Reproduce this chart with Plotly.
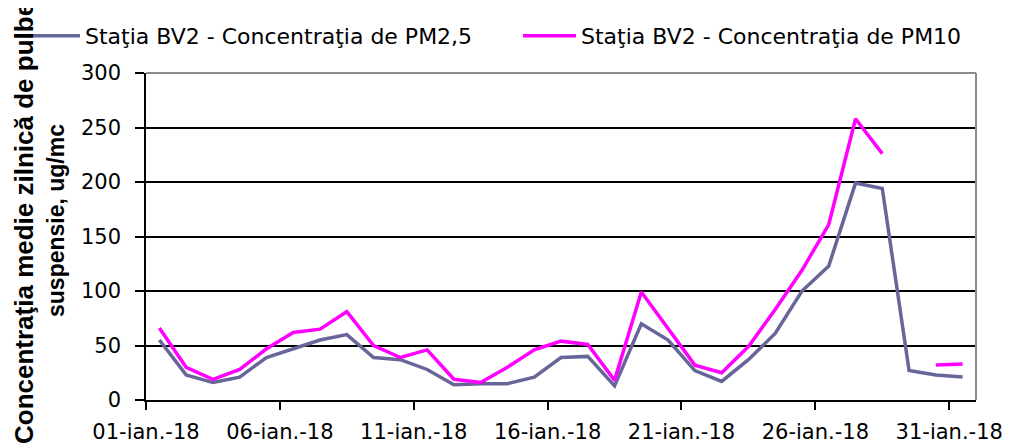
import plotly.graph_objects as go

days = list(range(1, 32))
tick_positions = [0.5, 5.5, 10.5, 15.5, 20.5, 25.5, 30.5]
tick_labels = ["01-ian.-18", "06-ian.-18", "11-ian.-18", "16-ian.-18",
               "21-ian.-18", "26-ian.-18", "31-ian.-18"]

pm25 = [55, 23, 16, 21, 39, 47, 55, 60, 39, 37, 28, 14, 15, 15, 21, 39,
        40, 13, 70, 55, 27, 17, 37, 61, 100, 123, 199, 194, 27, 23, 21]
pm10 = [66, 30, 19, 28, 47, 62, 65, 81, 50, 39, 46, 19, 16, 30, 46, 54,
        51, 18, 99, 66, 32, 25, 49, 83, 119, 161, 258, 226, None, 32, 33]

name25 = "Staţia BV2 - Concentraţia de PM2,5"
name10 = "Staţia BV2 - Concentraţia de PM10"

FONT = "DejaVu Sans, sans-serif"
TFONT = "Liberation Sans, Arial, sans-serif"

# page body has an 8px margin; the figure is sized so it ends at the window edge
OFF = 8
W, H = 1019 - OFF, 444 - OFF
L, T = 146 - OFF, 73 - OFF
R, B = 1019 - 976, 444 - 400
PW, PH = W - L - R, H - T - B

def px(x):  # reference-pixel x -> paper
    return (x - 146) / PW

def py(y):  # reference-pixel y -> paper
    return (400 - y) / PH

legend_common = dict(orientation="h", xanchor="left", yanchor="top",
                     itemwidth=53,
                     font=dict(family=FONT, size=22, color="black"),
                     bgcolor="rgba(0,0,0,0)", borderwidth=0)

fig = go.Figure()
fig.add_trace(go.Scatter(x=days, y=pm25, mode="lines", name=name25,
                         legend="legend",
                         line=dict(color="#666699", width=3.5)))
fig.add_trace(go.Scatter(x=days, y=pm10, mode="lines", name=name10,
                         legend="legend2", connectgaps=False,
                         line=dict(color="#FF00FF", width=3.5)))

fig.update_layout(
    width=W, height=H,
    margin=dict(l=L, r=R, t=T, b=B, pad=0, autoexpand=False),
    paper_bgcolor="white", plot_bgcolor="white",
    font=dict(family=FONT, size=21, color="black"),
    showlegend=True,
    legend=dict(x=px(22), y=py(15), **legend_common),
    legend2=dict(x=px(518), y=py(15), **legend_common),
    xaxis=dict(range=[0.5, 31.5], tickmode="array", tickvals=tick_positions,
               ticktext=tick_labels, showgrid=False, zeroline=False,
               showline=True, linecolor="black", linewidth=1.5,
               ticks="outside", ticklen=8, tickwidth=1.5, tickcolor="black",
               ticklabelstandoff=4, automargin=False,
               tickfont=dict(family=FONT, size=21, color="black")),
    yaxis=dict(range=[0, 300], tickmode="linear", tick0=0, dtick=50,
               showgrid=True, gridcolor="black", gridwidth=1.5, zeroline=False,
               showline=True, linecolor="black", linewidth=1.5,
               ticks="outside", ticklen=9, tickwidth=1.5, tickcolor="black",
               ticklabelstandoff=10, automargin=False,
               tickfont=dict(family=FONT, size=21, color="black")),
    shapes=[
        dict(type="line", xref="paper", yref="paper", x0=0, x1=1, y0=1, y1=1,
             line=dict(color="#8c8c8c", width=2), layer="above"),
        dict(type="line", xref="paper", yref="paper", x0=1, x1=1, y0=0, y1=1,
             line=dict(color="#8c8c8c", width=2), layer="above"),
        dict(type="line", xref="paper", yref="paper", x0=px(19), x1=px(31),
             y0=py(13), y1=py(13), line=dict(color="#777777", width=1.5)),
    ],
    annotations=[
        dict(text="<b>Concentraţia medie zilnică de pulberi în</b>", textangle=-90,
             xref="paper", yref="paper", x=px(24), y=py(446),
             xanchor="center", yanchor="bottom", showarrow=False,
             font=dict(family=TFONT, size=26, color="black")),
        dict(text="<b>suspensie, ug/mc</b>", textangle=-90,
             xref="paper", yref="paper", x=px(56), y=py(221),
             xanchor="center", yanchor="middle", showarrow=False,
             font=dict(family=TFONT, size=23, color="black")),
    ],
)

fig.write_html("out.html")
